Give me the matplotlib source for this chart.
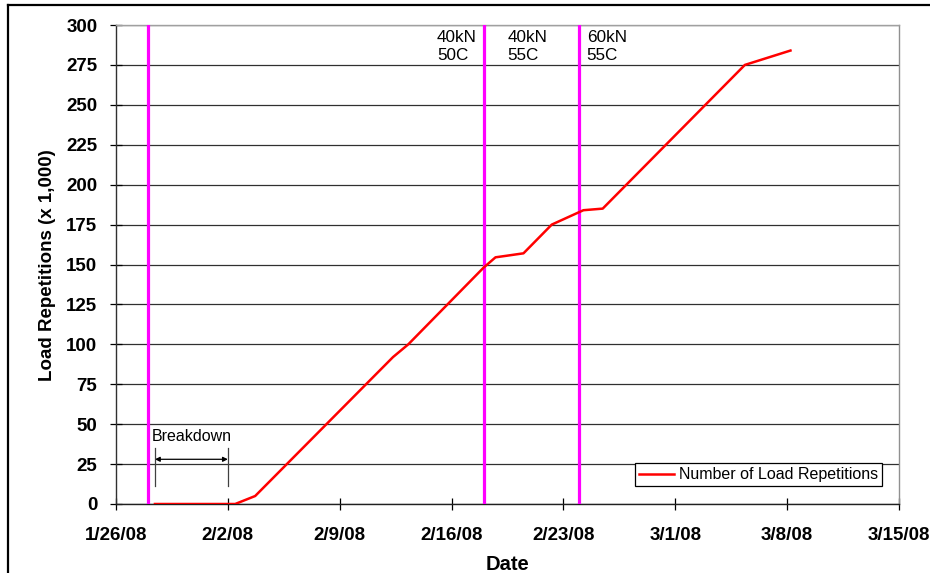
import matplotlib
matplotlib.use("Agg")
import matplotlib.pyplot as plt
import matplotlib.dates as mdates
import pandas as pd
from matplotlib.lines import Line2D

plt.rcParams['font.family'] = ['Liberation Sans', 'DejaVu Sans']

# ---- data ----
dates = ["2008-01-28 10:30", "2008-02-02 11:00", "2008-02-03 17:00", "2008-02-12 08:00",
         "2008-02-13 07:00", "2008-02-18 00:00", "2008-02-18 18:00", "2008-02-19 11:00",
         "2008-02-20 12:00", "2008-02-22 06:30", "2008-02-24 06:00", "2008-02-25 11:00",
         "2008-03-01 12:00", "2008-03-05 08:30", "2008-03-08 05:00"]
repetitions = [0, 0, 5, 92, 100, 148, 154.5, 155.5, 157, 175, 184, 185, 236, 275, 284]
event_dates = ["2008-01-28", "2008-02-18", "2008-02-24"]
stage_labels = ["40kN\n50C", "40kN\n55C", "60kN\n55C"]
stage_label_dates = ["2008-02-15 02:00", "2008-02-19 12:00", "2008-02-24 11:00"]
breakdown_start = "2008-01-28 10:30"
breakdown_end = "2008-02-02 00:00"
xtick_dates = pd.date_range("2008-01-26", "2008-03-15", freq="7D")
yticks = list(range(0, 301, 25))

x = pd.to_datetime(dates)

fig = plt.figure(figsize=(9.30, 5.73), dpi=100)
ax = fig.add_axes([116/930, (573-504)/573, (899-116)/930, (504-25)/573])

# figure frame (left/top visible)
fig.add_artist(Line2D([8/930, 8/930], [0, 1-5/573], transform=fig.transFigure, color='black', lw=1.6))
fig.add_artist(Line2D([8/930, 1], [1-5/573, 1-5/573], transform=fig.transFigure, color='black', lw=1.6))

ax.set_xlim(pd.Timestamp("2008-01-26"), pd.Timestamp("2008-03-15"))
ax.set_ylim(0, 300)
ax.set_yticks(yticks)
ax.set_xticks(xtick_dates)
ax.xaxis.set_major_formatter(mdates.DateFormatter('%-m/%-d/%y'))
ax.grid(axis='y', color='#303030', lw=0.9)
ax.set_axisbelow(True)

for d in event_dates:
    ax.axvline(pd.Timestamp(d), color='#FF00FF', lw=2.3, zorder=3)

ax.plot(x, repetitions, color='#FF0000', lw=1.8, zorder=4, label='Number of Load Repetitions')

for lab, d in zip(stage_labels, stage_label_dates):
    ax.text(pd.Timestamp(d), 297, lab, fontsize=12.3, va='top', ha='left', linespacing=1.25)

# breakdown annotation
bs, be = pd.Timestamp(breakdown_start), pd.Timestamp(breakdown_end)
for d in (bs, be):
    ax.plot([d, d], [11.5, 35], color='#404040', lw=0.9, zorder=4)
ax.annotate('', xy=(bs, 28), xytext=(be, 28),
            arrowprops=dict(arrowstyle='<|-|>', color='black', lw=0.9, mutation_scale=7, shrinkA=0, shrinkB=0))
ax.text(pd.Timestamp("2008-01-28 05:00"), 42, "Breakdown", fontsize=11.5, va='center', ha='left')

for lbl in ax.get_xticklabels() + ax.get_yticklabels():
    lbl.set_fontweight('bold')
ax.tick_params(axis='both', direction='inout', length=9, width=0.9, labelsize=13.5, colors='black')
ax.tick_params(axis='x', pad=12)
ax.tick_params(axis='y', pad=9)

ax.spines['left'].set_color('#303030')
ax.spines['bottom'].set_color('#202020')
ax.spines['top'].set_color('#a0a0a0')
ax.spines['right'].set_color('#909090')
for s in ax.spines.values():
    s.set_linewidth(1.0)

ax.set_xlabel('Date', fontsize=14.5, fontweight='bold')
ax.set_ylabel('Load Repetitions (x 1,000)', fontsize=13.5, fontweight='bold')
ax.yaxis.set_label_coords(-0.0766, 0.499)
ax.xaxis.set_label_coords(0.5, -0.106)

leg = ax.legend(loc='lower right', fontsize=11.5, frameon=True, fancybox=False,
                edgecolor='black', framealpha=1, handlelength=2.2, handletextpad=0.3,
                borderpad=0.25, bbox_to_anchor=(0.9885, 0.02))
leg.get_frame().set_linewidth(0.9)

fig.savefig('out.png', dpi=100)
